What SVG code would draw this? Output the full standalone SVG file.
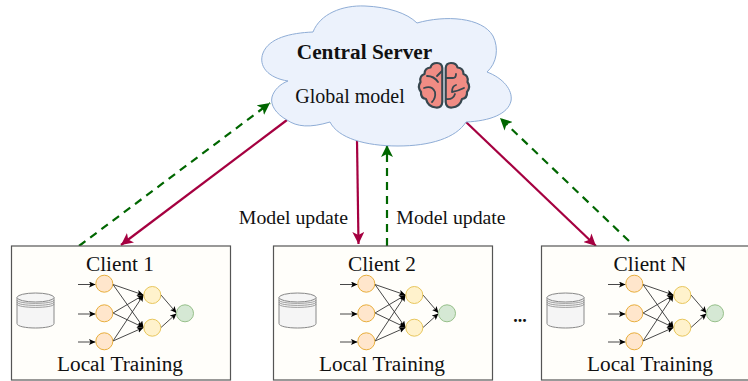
<svg xmlns="http://www.w3.org/2000/svg" width="748" height="381" viewBox="0 0 748 381">
<style>
text{font-family:"Liberation Serif","Times New Roman",serif;fill:#111;text-anchor:middle}
.lbl{font-size:21.3px}.mu{font-size:19.800px}
.box{fill:#fffefa;stroke:#555;stroke-width:1.2}
.red{fill:none;stroke:#a50040;stroke-width:2.2}
.grn{fill:none;stroke:#006600;stroke-width:2.2;stroke-dasharray:8 6}
.nn{fill:none;stroke:#333;stroke-width:.9}
.in{fill:#ffe6cc;stroke:#e8ae3c;stroke-width:1}
.hid{fill:#fff2cc;stroke:#e8c65c;stroke-width:1}
.out{fill:#d5e8d4;stroke:#97c08a;stroke-width:1}
.hemi{fill:#f08c84;stroke:#37474f;stroke-width:2.2;stroke-linejoin:round}
.fold{fill:none;stroke:#37474f;stroke-width:1.8;stroke-linecap:round}
</style>
<defs>
<marker id="ar" markerUnits="userSpaceOnUse" markerWidth="13" markerHeight="12" refX="12" refY="6" orient="auto"><path d="M0 0L12 6L0 12L3 6Z" fill="#a50040"/></marker>
<marker id="ag" markerUnits="userSpaceOnUse" markerWidth="13" markerHeight="12" refX="12" refY="6" orient="auto"><path d="M0 0L12 6L0 12L3 6Z" fill="#006600"/></marker>
<marker id="ak" markerUnits="userSpaceOnUse" markerWidth="7" markerHeight="6" refX="6.5" refY="3" orient="auto"><path d="M0 0L6.5 3L0 6L1.5 3Z" fill="#000"/></marker>
<g id="net">
<g class="db"><path d="M17 297.500V323.500C17 329.500 54 329.500 54 323.500V297.500" fill="#f5f5f5" stroke="#888" stroke-width="1"/><ellipse cx="35.500" cy="297.500" rx="18.500" ry="4.500" fill="#f5f5f5" stroke="#888" stroke-width="1"/><path d="M17 300C17 304.500 54 304.500 54 300M17 302C17 306.500 54 306.500 54 302M17 304C17 308.500 54 308.500 54 304" fill="none" stroke="#888" stroke-width=".8"/></g>
<g marker-end="url(#ak)" class="nn">
<path d="M78 284.500H95.500"/><path d="M78 314H95.500"/><path d="M78 342H95.500"/>
<path d="M113 284.500L143.500 295"/><path d="M113 284.500L143.500 327.500"/>
<path d="M113 313L143.500 295"/><path d="M113 313L143.500 327.500"/>
<path d="M113 341L143.500 295"/><path d="M113 341L143.500 327.500"/>
<path d="M161 295L176.500 313"/><path d="M161 327.500L176.500 313.500"/>
</g>
<circle class="in" cx="104.300" cy="283.700" r="8.500"/><circle class="in" cx="104.300" cy="313.300" r="8.500"/><circle class="in" cx="104.300" cy="341.300" r="8.500"/>
<circle class="hid" cx="152.300" cy="295" r="8.500"/><circle class="hid" cx="152.300" cy="327.700" r="8.500"/>
<circle class="out" cx="185" cy="313.300" r="8.500"/>
</g>
</defs>
<g id="connectors">
<path class="red" marker-end="url(#ar)" d="M287 120L121 245"/>
<path class="red" marker-end="url(#ar)" d="M357 140L358.500 244"/>
<path class="red" marker-end="url(#ar)" d="M466 122L596 246"/>
<path class="grn" marker-end="url(#ag)" d="M79 246L270 103"/>
<path class="grn" marker-end="url(#ag)" d="M387 246V145"/>
<path class="grn" marker-end="url(#ag)" d="M629 241L500 118"/>
</g>
<g id="server">
<path d="M288 81C268 78 258 66 263 53C269 38 290 33 313 32C320 14 342 5 365 6C388 7 407 13 417 23C445 15 482 17 493 36C499 48 497 63 487 72C503 78 513 90 511 101C508 114 490 121 466 122C456 138 430 146 398 146C365 146 338 138 330 122C310 128 297 127 287 120C276 114 270 105 272 97C274 90 280 84 288 81Z" fill="#ecf2fc" stroke="#8fadd6" stroke-width="1"/>
<text x="364.500" y="59" font-size="21.300" font-weight="bold">Central Server</text>
<text x="350" y="103" font-size="20">Global model</text>
<g id="brain">
<path class="hemi" d="M442.300 68Q442 63 437 63Q431.500 63 430.500 67.500Q424.500 68 424.500 74Q419 76 420.500 82Q417 87 421 92Q420.500 98 426 99Q428 107 436 107.500Q442 108 442.300 102Z"/>
<path class="hemi" d="M445.700 68Q446 63 451 63Q456.500 63 457.500 67.500Q463.500 68 463.500 74Q469 76 467.500 82Q471 87 467 92Q467.500 98 462 99Q460 107 452 107.500Q446 108 445.700 102Z"/>
<path class="fold" d="M427 76Q434 76 438 82M437 76L442 71M424 88Q432 85 435 92Q436 98 432 102"/>
<path class="fold" d="M446 78H453Q456 78 456 74M456 85Q452 86 452 92M452 92Q458 91 464 88M446 99Q453 100 455 94"/>
</g>
</g>
<g id="client1">
<rect class="box" x="11.500" y="246" width="219" height="134"/>
<text x="120" y="271" class="lbl">Client 1</text>
<use href="#net"/>
<text x="120" y="371" class="lbl">Local Training</text>
</g>
<g id="client2">
<rect class="box" x="273.500" y="246" width="219" height="134"/>
<text x="382" y="271" class="lbl">Client 2</text>
<use href="#net" x="262"/>
<text x="382" y="371" class="lbl">Local Training</text>
</g>
<g id="clientN">
<rect class="box" x="541.500" y="246" width="219" height="134"/>
<text x="650" y="271" class="lbl">Client N</text>
<use href="#net" x="530"/>
<text x="650" y="371" class="lbl">Local Training</text>
</g>
<text x="293.500" y="224" class="mu">Model update</text>
<text x="451" y="224" class="mu">Model update</text>
<text x="520" y="322" font-size="18" font-weight="bold">...</text>
</svg>
